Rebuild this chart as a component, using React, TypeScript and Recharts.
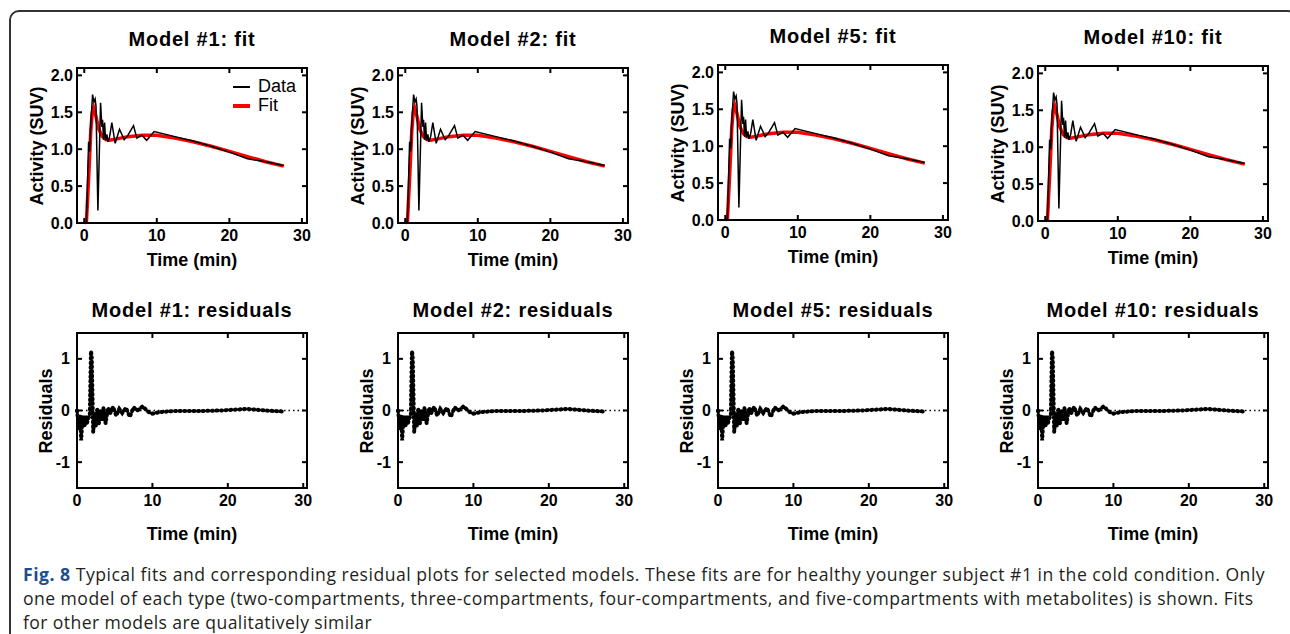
import React from 'react';
import { LineChart, Line, XAxis, YAxis, ReferenceLine, ReferenceArea, Legend } from 'recharts';

// panels
const models = ['#1', '#2', '#5', '#10'];

// fitted curve (SUV)
const fitTime = [0, 0.3, 0.6, 0.9, 1.1, 1.3, 1.6, 2.0, 2.5, 3.0, 3.5, 4.5, 6, 8, 10, 12.5, 15, 17.5, 20, 22.5, 25, 27.5];
const fitActivity = [0, 0.02, 0.6, 1.25, 1.5, 1.56, 1.45, 1.27, 1.17, 1.13, 1.12, 1.14, 1.17, 1.19, 1.19, 1.15, 1.1, 1.04, 0.97, 0.9, 0.83, 0.77];

// measured data (SUV)
const dataTime = [0, 0.3, 0.45, 0.6, 0.75, 0.9, 1.15, 1.33, 1.5, 1.62, 1.88, 2.25, 2.43, 2.52, 2.66, 2.8, 2.94, 3.12, 3.26, 3.5, 3.8, 4.26, 4.86, 5.5, 5.96, 6.79, 7.25, 7.94, 8.6, 9.63, 12.5, 15, 17.5, 20, 22.5, 25, 27.5];
const dataActivity = [0, 0.02, 0.55, 1.1, 0.97, 1.35, 1.74, 1.64, 1.68, 1.58, 0.17, 1.63, 1.3, 1.4, 1.13, 1.36, 1.12, 1.2, 1.1, 1.17, 1.36, 1.08, 1.27, 1.13, 1.18, 1.32, 1.15, 1.19, 1.12, 1.24, 1.17, 1.11, 1.04, 0.96, 0.87, 0.83, 0.78];

// residuals
const resTime = [0, 0.15, 0.3, 0.45, 0.55, 0.7, 0.85, 1.0, 1.15, 1.3, 1.5, 1.7, 1.85, 1.95, 2.15, 2.3, 2.5, 2.7, 2.9, 3.1, 3.3, 3.5, 3.8, 4.1, 4.4, 4.8, 5.2, 5.6, 6.0, 6.5, 7.0, 7.5, 8.0, 8.7, 9.5, 10, 11, 13, 16, 19, 22.5, 25, 27.5];
const resValues = [0, -0.2, -0.35, -0.1, -0.58, -0.2, -0.1, -0.3, -0.1, -0.25, -0.15, -0.1, 1.15, 1.05, -0.42, -0.05, -0.3, 0.02, -0.25, 0.0, -0.2, 0.05, -0.25, 0.05, -0.05, 0.07, -0.1, 0.03, -0.05, 0.05, -0.12, 0.06, 0.0, 0.08, -0.03, -0.06, -0.03, -0.01, -0.01, 0.0, 0.03, 0.0, -0.02];

const timeTicks = [0, 10, 20, 30];
const fitTicks = [0, 0.5, 1, 1.5, 2];
const resTicks = [-1, 0, 1];

const fitRows = fitTime.map((t, i) => ({ t, v: fitActivity[i] }));
const dataRows = dataTime.map((t, i) => ({ t, v: dataActivity[i] }));
const resRows = resTime.map((t, i) => ({ t, v: resValues[i] }));

const FONT = '"Liberation Sans", Arial, Helvetica, sans-serif';
const colLeft = [77, 398, 718, 1038];
const fitShift = [0, 0, -3, -2];
const PW = 230;
const PH = 155;

const tickText = { fontFamily: FONT, fontWeight: 700, fontSize: 16, fill: '#000' };

// label + inward tick, plus the mirrored inward tick on the opposite side of the frame
const makeTick = (side: string, m: number, fmt: (v: number) => string) => (props: any) => {
  const { x, y, payload } = props;
  const v = payload.value;
  if (side === 'left') {
    const ax = x + m;
    return (
      <g>
        <line x1={ax} x2={ax + 5} y1={y} y2={y} stroke="#000" strokeWidth={2} />
        <line x1={ax + PW} x2={ax + PW - 5} y1={y} y2={y} stroke="#000" strokeWidth={2} />
        <text x={x} y={y} dy="0.35em" textAnchor="end" style={tickText}>{fmt(v)}</text>
      </g>
    );
  }
  const ay = y - m;
  return (
    <g>
      <line x1={x} x2={x} y1={ay} y2={ay - 5} stroke="#000" strokeWidth={2} />
      <line x1={x} x2={x} y1={ay - PH} y2={ay - PH + 5} stroke="#000" strokeWidth={2} />
      <text x={x} y={y} dy="0.71em" textAnchor="middle" style={tickText}>{fmt(v)}</text>
    </g>
  );
};

const titleStyle = (cx: number, baseline: number): React.CSSProperties => ({
  position: 'absolute', left: cx, top: baseline - 17, transform: 'translateX(-50%)',
  fontFamily: FONT, fontWeight: 700, fontSize: 20, lineHeight: '20px', letterSpacing: 0.8,
  whiteSpace: 'nowrap', color: '#000',
});
const xLabelStyle = (cx: number, baseline: number): React.CSSProperties => ({
  position: 'absolute', left: cx, top: baseline - 15, transform: 'translateX(-50%)',
  fontFamily: FONT, fontWeight: 700, fontSize: 18, lineHeight: '18px', whiteSpace: 'nowrap', color: '#000',
});
const yLabelStyle = (cx: number, cy: number): React.CSSProperties => ({
  position: 'absolute', left: cx, top: cy, transform: 'translate(-50%, -50%) rotate(-90deg)',
  fontFamily: FONT, fontWeight: 700, fontSize: 18, lineHeight: '18px', whiteSpace: 'nowrap', color: '#000',
});

const axisLine = { stroke: '#000', strokeWidth: 2 };

const FitLegend = ({ payload }: any) => {
  const items = [...(payload || [])].sort((a: any, b: any) => (a.value === 'Data' ? -1 : b.value === 'Data' ? 1 : 0));
  return (
    <div style={{ fontFamily: FONT, fontSize: 18, color: '#000' }}>
      {items.map((it: any) => (
        <div key={it.value} style={{ display: 'flex', alignItems: 'center', height: 19 }}>
          <span style={{ display: 'inline-block', width: 17, height: it.value === 'Fit' ? 4 : 2, background: it.color, marginRight: 8 }} />
          <span>{it.value}</span>
        </div>
      ))}
    </div>
  );
};

function FitPanel({ idx }: { idx: number }) {
  const left = colLeft[idx];
  const s = fitShift[idx];
  return (
    <>
      <div style={titleStyle(left + PW / 2, 46 + s)}>Model {models[idx]}: fit</div>
      <div style={yLabelStyle(left - 40, 146 + s)}>Activity (SUV)</div>
      <div style={xLabelStyle(left + PW / 2, 266 + s)}>Time (min)</div>
      <div style={{ position: 'absolute', left: left - 60, top: 50 + s }}>
        <LineChart width={300} height={205} margin={{ top: 18, right: 10, bottom: 2, left: 20 }}>
          <XAxis xAxisId="b" dataKey="t" type="number" domain={[-1, 30.7]} ticks={timeTicks} interval={0}
            height={30} tickSize={0} tickMargin={7} axisLine={axisLine} tick={makeTick('bottom', 7, (v) => String(v))} />
          <YAxis yAxisId="l" type="number" domain={[0, 2.1]} ticks={fitTicks} interval={0}
            width={40} tickSize={0} tickMargin={4} axisLine={axisLine} tick={makeTick('left', 4, (v) => v.toFixed(1))} />
          <ReferenceArea xAxisId="b" yAxisId="l" x1={-1} x2={30.7} y1={0} y2={2.1} fill="none" fillOpacity={0}
            stroke="#000" strokeWidth={2} ifOverflow="visible" />
          <Line xAxisId="b" yAxisId="l" data={fitRows} dataKey="v" name="Fit" type="linear" stroke="#ff0000"
            strokeWidth={3.5} dot={false} isAnimationActive={false} />
          <Line xAxisId="b" yAxisId="l" data={dataRows} dataKey="v" name="Data" type="linear" stroke="#000"
            strokeWidth={1.5} dot={false} isAnimationActive={false} />
          {idx === 0 && (
            <Legend layout="vertical" align="center" verticalAlign="middle" content={FitLegend}
              wrapperStyle={{ left: 216, top: 27, width: 80, height: 40 }} />
          )}
        </LineChart>
      </div>
    </>
  );
}

function ResPanel({ idx }: { idx: number }) {
  const left = colLeft[idx];
  return (
    <>
      <div style={titleStyle(left + PW / 2, 317)}>Model {models[idx]}: residuals</div>
      <div style={yLabelStyle(left - 31, 411)}>Residuals</div>
      <div style={xLabelStyle(left + PW / 2, 540)}>Time (min)</div>
      <div style={{ position: 'absolute', left: left - 60, top: 320 }}>
        <LineChart width={300} height={198} margin={{ top: 13, right: 10, bottom: 2, left: 20 }}>
          <XAxis xAxisId="b" dataKey="t" type="number" domain={[0, 30.5]} ticks={timeTicks} interval={0}
            height={28} tickSize={0} tickMargin={7} axisLine={axisLine} tick={makeTick('bottom', 7, (v) => String(v))} />
          <YAxis yAxisId="l" type="number" domain={[-1.5, 1.5]} ticks={resTicks} interval={0}
            width={40} tickSize={0} tickMargin={7} axisLine={axisLine} tick={makeTick('left', 7, (v) => String(v))} />
          <ReferenceArea xAxisId="b" yAxisId="l" x1={0} x2={30.5} y1={-1.5} y2={1.5} fill="none" fillOpacity={0}
            stroke="#000" strokeWidth={2} ifOverflow="visible" />
          <ReferenceLine xAxisId="b" yAxisId="l" y={0} stroke="#000" strokeWidth={1.5} strokeDasharray="1.5 3" />
          <Line xAxisId="b" yAxisId="l" data={resRows} dataKey="v" type="linear" stroke="#000"
            strokeWidth={4} strokeDasharray="1 3.6" strokeLinecap="round" dot={false} isAnimationActive={false} />
        </LineChart>
      </div>
    </>
  );
}

export default function App() {
  return (
    <div style={{ position: 'absolute', left: 0, top: 0, width: 1290, height: 634, overflow: 'hidden', background: '#fff' }}>
      <div style={{ position: 'absolute', left: 9, top: 10, width: 1285, height: 700, border: '2px solid #333', borderRadius: 10 }} />
      {models.map((m, i) => <FitPanel key={'f' + m} idx={i} />)}
      {models.map((m, i) => <ResPanel key={'r' + m} idx={i} />)}
      <div style={{ position: 'absolute', left: 23, top: 562, fontFamily: '"Open Sans", sans-serif', fontSize: 17.6, lineHeight: '24px', color: '#231f20', whiteSpace: 'nowrap' }}>
        <div style={{ letterSpacing: 0.5 }}><b style={{ color: '#1f4e8c' }}>Fig. 8</b> Typical fits and corresponding residual plots for selected models. These fits are for healthy younger subject #1 in the cold condition. Only</div>
        <div style={{ letterSpacing: 0.45 }}>one model of each type (two-compartments, three-compartments, four-compartments, and five-compartments with metabolites) is shown. Fits</div>
        <div style={{ letterSpacing: 0.4 }}>for other models are qualitatively similar</div>
      </div>
    </div>
  );
}
